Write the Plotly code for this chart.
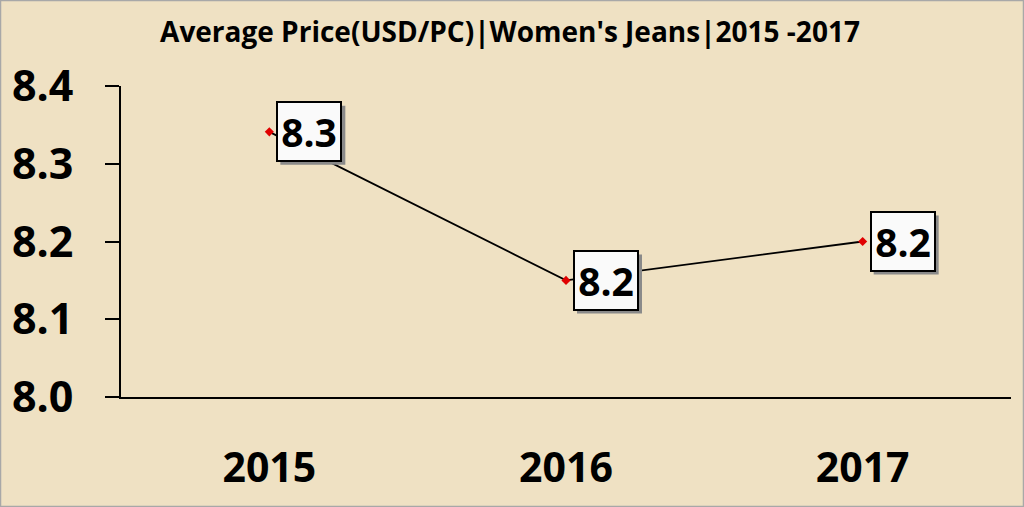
import plotly.graph_objects as go

years = ["2015", "2016", "2017"]
prices = [8.341, 8.15, 8.20]
y_ticks = [8.0, 8.1, 8.2, 8.3, 8.4]
title_text = "Average Price(USD/PC)|Women's Jeans|2015 -2017"

FONT = "Open Sans"
L, R, T, B = 121, 13, 86, 110
W, H = 1024, 507
pw, ph = W - L - R, H - T - B

fig = go.Figure()
fig.add_trace(go.Scatter(
    x=years, y=prices, mode="lines+markers",
    line=dict(color="black", width=1.8),
    marker=dict(symbol="diamond", size=7, color="#E00000"),
    hoverinfo="skip", showlegend=False,
))

annotations = []
shapes = [dict(type="rect", xref="paper", yref="paper",
               x0=(0.5 - L) / pw, x1=(W - 0.5 - L) / pw,
               y0=(H - B - (H - 0.5)) / ph, y1=(H - B - 0.5) / ph,
               line=dict(color="#A8A8A8", width=1.5), layer="below")]
for i, v in enumerate(prices):
    # drop shadow of the label box
    shapes.append(dict(
        type="rect", xref="x", yref="y", xsizemode="pixel", ysizemode="pixel",
        xanchor=i, yanchor=v, x0=11, x1=76, y0=-33, y1=26,
        fillcolor="#8a8a8a", line=dict(width=0), layer="above",
    ))
    annotations.append(dict(
        x=i, y=v, xref="x", yref="y", text=f"<b>{v:.1f}</b>", showarrow=False,
        xanchor="left", yanchor="middle", xshift=7,
        font=dict(family=FONT, size=39, color="black"),
        bgcolor="#FAFAFA", bordercolor="black", borderwidth=2, borderpad=2,
        width=58, height=53,
    ))

fig.update_layout(
    width=W, height=H,
    margin=dict(l=L, r=R, t=T, b=B, autoexpand=False),
    paper_bgcolor="#EFE1C3",
    plot_bgcolor="rgba(0,0,0,0)",
    title=dict(text=f"<b>{title_text}</b>", x=(510 - L) / pw, xref="paper", xanchor="center",
               y=1 - 32 / H, yanchor="middle",
               font=dict(family=FONT, size=28, color="black")),
    xaxis=dict(type="category", range=[-0.5, 2.5], showline=True, linecolor="black",
               linewidth=2, ticks="", showgrid=False, zeroline=False, automargin=False,
               tickvals=years, ticktext=[f"<b>{y}</b>" for y in years],
               tickfont=dict(family=FONT, size=41, color="black"),
               ticklabelstandoff=34),
    yaxis=dict(range=[8.0, 8.4], tickvals=y_ticks, ticktext=[f"<b>{t:.1f}</b>" for t in y_ticks],
               showline=True, linecolor="black", linewidth=2, automargin=False,
               ticks="outside", ticklen=14, tickwidth=2, tickcolor="black",
               showgrid=False, zeroline=False,
               tickfont=dict(family=FONT, size=43, color="black"),
               ticklabelstandoff=23),
    annotations=annotations,
    shapes=shapes,
)

fig.write_html("out.html", config={"displayModeBar": False},
               post_script="document.body.style.margin='0';document.body.style.overflow='hidden';")
